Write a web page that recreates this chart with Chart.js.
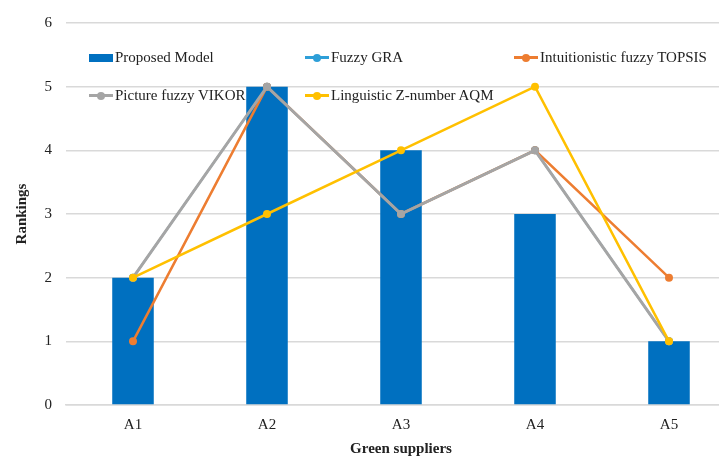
<!DOCTYPE html>
<html>
<head>
<meta charset="utf-8">
<script src="https://cdn.jsdelivr.net/npm/chart.js@4.4.0/dist/chart.umd.min.js"></script>
<style>
    html, body { margin: 0; padding: 0; background: #fff; overflow: hidden; }
    #wrap { position: relative; width: 740px; height: 458px; }
    .legend-item {
        position: absolute;
        font-family: "Liberation Serif", "Times New Roman", serif;
        font-size: 15px;
        color: #222;
        white-space: nowrap;
        line-height: 18px;
    }
    .swatch-box { display: inline-block; width: 24px; height: 8px; vertical-align: middle; margin-right: 2px; margin-top: -2px; }
    .swatch-line { display: inline-block; position: relative; width: 24px; height: 3px; vertical-align: middle; margin-right: 2px; margin-top: -2px; }
    .swatch-line i { position: absolute; left: 8px; top: -2.5px; width: 8px; height: 8px; border-radius: 50%; }
</style>
</head>
<body>
<div id="wrap">
    <canvas id="rankChart" width="740" height="458"></canvas>
    <div id="legend"></div>
</div>
<script>
// Chart data
const suppliers = ['A1', 'A2', 'A3', 'A4', 'A5'];
const proposedModel = [2, 5, 4, 3, 1];
const fuzzyGra = [2, 5, 3, 4, 1];
const intuitionisticTopsis = [1, 5, 3, 4, 2];
const pictureVikor = [2, 5, 3, 4, 1];
const linguisticAqm = [2, 3, 4, 5, 1];
const yTicks = [0, 1, 2, 3, 4, 5, 6];

const FONT = '"Liberation Serif", "Times New Roman", serif';

// Series styles
const series = [
    { label: 'Proposed Model', data: proposedModel, color: '#0070C0', type: 'bar', width: 0 },
    { label: 'Fuzzy GRA', data: fuzzyGra, color: '#2E9FD8', type: 'line', width: 2 },
    { label: 'Intuitionistic fuzzy TOPSIS', data: intuitionisticTopsis, color: '#ED7D31', type: 'line', width: 2.5 },
    { label: 'Picture fuzzy VIKOR', data: pictureVikor, color: '#A5A5A5', type: 'line', width: 3 },
    { label: 'Linguistic Z-number AQM', data: linguisticAqm, color: '#FFC000', type: 'line', width: 2.5 }
];

// Legend placement (layout only)
const legendSpots = [[89, 48], [305, 48], [514, 48], [89, 86], [305, 86]];

const buildDatasets = () => series.map((s, i) => {
    if (s.type === 'bar') {
        return {
            type: 'bar',
            label: s.label,
            data: s.data,
            backgroundColor: s.color,
            barPercentage: 0.31,
            categoryPercentage: 1,
            order: series.length
        };
    }
    return {
        type: 'line',
        label: s.label,
        data: s.data,
        borderColor: s.color,
        backgroundColor: s.color,
        borderWidth: s.width,
        pointRadius: 4,
        pointBorderWidth: 0,
        pointBackgroundColor: s.color,
        tension: 0,
        fill: false,
        order: series.length - i
    };
});

const buildLegend = () => {
    const box = document.querySelector('#legend');
    series.forEach((s, i) => {
        const item = document.createElement('div');
        item.className = 'legend-item';
        item.style.left = legendSpots[i][0] + 'px';
        item.style.top = legendSpots[i][1] + 'px';
        const sw = document.createElement('span');
        if (s.type === 'bar') {
            sw.className = 'swatch-box';
            sw.style.background = s.color;
        } else {
            sw.className = 'swatch-line';
            sw.style.background = s.color;
            const dot = document.createElement('i');
            dot.style.background = s.color;
            sw.appendChild(dot);
        }
        item.appendChild(sw);
        item.appendChild(document.createTextNode(s.label));
        box.appendChild(item);
    });
};

const init = () => {
    const ctx = document.querySelector('#rankChart');
    new Chart(ctx, {
        data: {
            labels: suppliers,
            datasets: buildDatasets()
        },
        options: {
            responsive: false,
            animation: false,
            layout: { padding: { top: 12, right: 4, left: 0, bottom: 0 } },
            plugins: {
                legend: { display: false },
                tooltip: { enabled: false }
            },
            scales: {
                x: {
                    grid: { display: false, drawTicks: false },
                    border: { display: true, color: '#d9d9d9', width: 1.5 },
                    ticks: {
                        padding: 11,
                        color: '#222',
                        font: { family: FONT, size: 15 }
                    },
                    title: {
                        display: true,
                        text: 'Green suppliers',
                        color: '#222',
                        font: { family: FONT, size: 15, weight: 'bold' },
                        padding: { top: 0, bottom: 0 }
                    },
                    afterFit: (scale) => { scale.height = 53; }
                },
                y: {
                    min: 0,
                    max: 6,
                    afterBuildTicks: (scale) => { scale.ticks = yTicks.map(v => ({ value: v })); },
                    grid: { color: '#d9d9d9', lineWidth: 1.5, drawTicks: false },
                    border: { display: false },
                    ticks: {
                        padding: 14,
                        color: '#222',
                        font: { family: FONT, size: 15 }
                    },
                    title: {
                        display: true,
                        text: 'Rankings',
                        color: '#222',
                        font: { family: FONT, size: 15, weight: 'bold' },
                        padding: { top: 13, bottom: 0 }
                    },
                    afterFit: (scale) => { scale.width = 66; }
                }
            }
        }
    });
    buildLegend();
};

init();
</script>
</body>
</html>
